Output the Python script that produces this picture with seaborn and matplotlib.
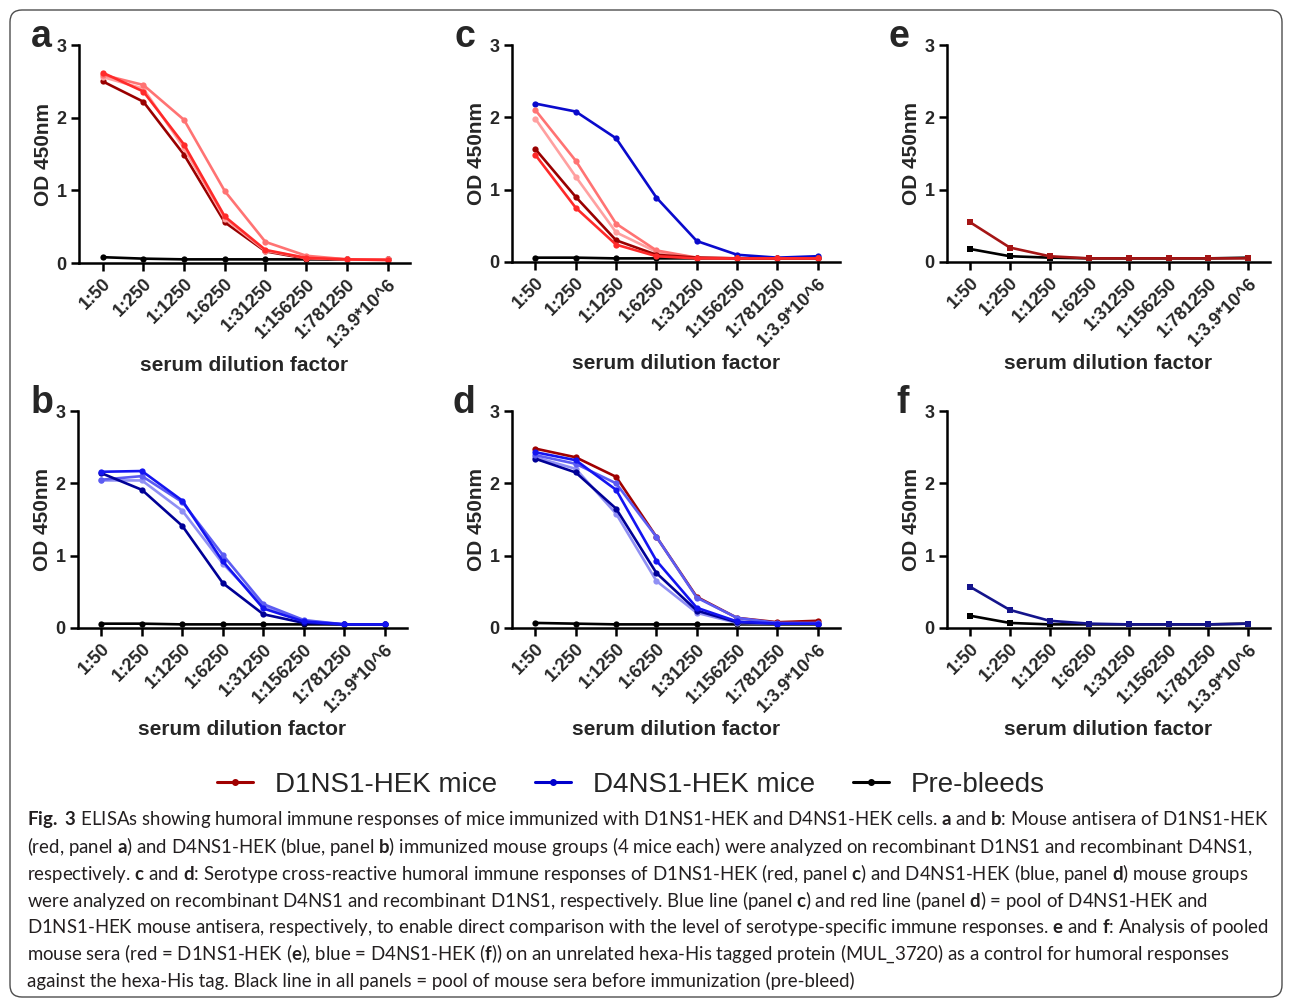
import numpy as np
import pandas as pd
import matplotlib
matplotlib.use("Agg")
import matplotlib.pyplot as plt
import seaborn as sns
from matplotlib.lines import Line2D
from matplotlib.patches import FancyBboxPatch

# x categories (serum dilution)
dilutions = ["1:50", "1:250", "1:1250", "1:6250", "1:31250", "1:156250", "1:781250", "1:3.9*10^6"]

# panel a: D1NS1-HEK mice on D1NS1
a_m1 = [2.50, 2.22, 1.49, 0.56, 0.16, 0.06, 0.05, 0.05]
a_m2 = [2.62, 2.36, 1.63, 0.64, 0.18, 0.07, 0.05, 0.04]
a_m3 = [2.59, 2.45, 1.97, 0.99, 0.29, 0.10, 0.05, 0.05]
a_m4 = [2.56, 2.40, 1.58, 0.61, 0.17, 0.07, 0.05, 0.05]
a_pre = [0.08, 0.06, 0.05, 0.05, 0.05, 0.05, 0.05, 0.05]

# panel b: D4NS1-HEK mice on D4NS1
b_m1 = [2.14, 1.91, 1.41, 0.62, 0.19, 0.07, 0.05, 0.05]
b_m2 = [2.16, 2.17, 1.76, 0.92, 0.27, 0.09, 0.05, 0.05]
b_m3 = [2.05, 2.10, 1.74, 1.01, 0.33, 0.11, 0.05, 0.05]
b_m4 = [2.04, 2.04, 1.62, 0.89, 0.31, 0.10, 0.05, 0.05]
b_pre = [0.06, 0.06, 0.05, 0.05, 0.05, 0.05, 0.05, 0.05]

# panel c: D1NS1-HEK mice on D4NS1 (+ D4 pool)
c_m1 = [1.56, 0.90, 0.30, 0.10, 0.06, 0.05, 0.05, 0.05]
c_m2 = [1.48, 0.75, 0.24, 0.08, 0.05, 0.05, 0.05, 0.05]
c_m3 = [2.10, 1.40, 0.53, 0.16, 0.06, 0.05, 0.05, 0.05]
c_m4 = [1.98, 1.18, 0.41, 0.14, 0.06, 0.05, 0.05, 0.05]
c_pool = [2.19, 2.08, 1.71, 0.89, 0.29, 0.10, 0.06, 0.08]
c_pre = [0.06, 0.06, 0.05, 0.05, 0.05, 0.05, 0.05, 0.06]

# panel d: D4NS1-HEK mice on D1NS1 (+ D1 pool)
d_m1 = [2.34, 2.15, 1.65, 0.76, 0.24, 0.08, 0.06, 0.06]
d_m2 = [2.43, 2.32, 1.91, 0.93, 0.28, 0.09, 0.06, 0.06]
d_m3 = [2.39, 2.27, 2.00, 1.26, 0.42, 0.14, 0.07, 0.07]
d_m4 = [2.36, 2.20, 1.58, 0.65, 0.21, 0.07, 0.06, 0.06]
d_pool = [2.48, 2.36, 2.09, 1.26, 0.43, 0.14, 0.08, 0.10]
d_pre = [0.07, 0.06, 0.05, 0.05, 0.05, 0.05, 0.05, 0.05]

# panels e / f: pooled sera on hexa-His control protein
e_pool = [0.55, 0.20, 0.08, 0.05, 0.05, 0.05, 0.05, 0.05]
e_pre = [0.18, 0.08, 0.06, 0.05, 0.05, 0.05, 0.05, 0.06]
f_pool = [0.57, 0.25, 0.10, 0.06, 0.05, 0.05, 0.05, 0.06]
f_pre = [0.17, 0.07, 0.05, 0.05, 0.05, 0.05, 0.05, 0.06]

reds = ["#990000", "#ff2a2a", "#ff7373", "#ffa0a0"]
blues = ["#000096", "#1414f0", "#5c5cf2", "#9090f4"]

sns.set_theme(style="ticks")
plt.rcParams["font.family"] = ["Liberation Sans", "DejaVu Sans"]
plt.rcParams["mathtext.fontset"] = "custom"
plt.rcParams["mathtext.rm"] = "Lato"
plt.rcParams["mathtext.bf"] = "Lato:bold"


def draw_panel(ax, series, marker="o"):
    rows = []
    for name, vals, col in series:
        for i, v in enumerate(vals):
            rows.append({"pos": i, "od": v, "series": name})
    df = pd.DataFrame(rows)
    pal = {name: col for name, vals, col in series}
    sns.lineplot(data=df, x="pos", y="od", hue="series", hue_order=[s[0] for s in series],
                 palette=pal, marker=marker, markersize=4.5, markeredgewidth=0,
                 linewidth=1.9, estimator=None, sort=False, legend=False, ax=ax)
    ax.set_xlim(-0.58, 7.55)
    ax.set_ylim(0, 3)
    ax.set_xticks(range(len(dilutions)))
    ax.set_xticklabels(dilutions, rotation=45, ha="right", rotation_mode="anchor",
                       fontsize=13, fontweight="bold")
    ax.set_yticks([0, 1, 2, 3])
    ax.set_yticklabels(["0", "1", "2", "3"], fontsize=13, fontweight="bold")
    ax.tick_params(axis="both", direction="out", length=6, width=1.8, color="black", pad=3)
    for s in ["left", "bottom"]:
        ax.spines[s].set_linewidth(1.8)
        ax.spines[s].set_color("black")
    sns.despine(ax=ax)
    ax.set_xlabel("serum dilution factor", fontsize=15, fontweight="bold", va="top")
    ax.set_ylabel("OD 450nm", fontsize=15, fontweight="bold")
    ax.xaxis.set_label_coords(0.5, -0.425)
    ax.yaxis.set_label_coords(-0.08, 0.5)


fig = plt.figure(figsize=(12.92, 10), dpi=100)
W, H = 1292, 1000


def add_ax(left, right, top, bottom):
    return fig.add_axes([left / W, 1 - bottom / H, (right - left) / W, (bottom - top) / H])


ax_a = add_ax(79, 410, 45, 263)
ax_c = add_ax(512, 840, 45, 262)
ax_e = add_ax(947, 1270, 45, 262)
ax_b = add_ax(78, 407, 411, 628)
ax_d = add_ax(512, 840, 411, 628)
ax_f = add_ax(947, 1270, 411, 628)

draw_panel(ax_a, [("pre", a_pre, "black"), ("m1", a_m1, reds[0]), ("m4", a_m4, reds[3]),
                  ("m3", a_m3, reds[2]), ("m2", a_m2, reds[1])])
draw_panel(ax_b, [("pre", b_pre, "black"), ("m4", b_m4, blues[3]), ("m3", b_m3, blues[2]),
                  ("m1", b_m1, blues[0]), ("m2", b_m2, blues[1])])
draw_panel(ax_c, [("pre", c_pre, "black"), ("pool", c_pool, "#0a0acc"), ("m4", c_m4, reds[3]),
                  ("m3", c_m3, reds[2]), ("m1", c_m1, reds[0]), ("m2", c_m2, reds[1])])
draw_panel(ax_d, [("pre", d_pre, "black"), ("pool", d_pool, "#a00000"), ("m4", d_m4, blues[3]),
                  ("m1", d_m1, blues[0]), ("m3", d_m3, blues[2]), ("m2", d_m2, blues[1])])
draw_panel(ax_e, [("pre", e_pre, "black"), ("pool", e_pool, "#a51515")], marker="s")
draw_panel(ax_f, [("pre", f_pre, "black"), ("pool", f_pool, "#14148c")], marker="s")

# panel letters
for lab, x, y in [("a", 31, 47), ("c", 455, 47), ("e", 889, 47),
                  ("b", 31, 413), ("d", 452, 413), ("f", 896, 413)]:
    fig.text(x / W, 1 - y / H, lab, fontsize=27, fontweight="bold", ha="left", va="baseline")

# legend
handles = [
    Line2D([], [], color="#a00000", lw=2.2, marker="o", ms=4),
    Line2D([], [], color="#0000cc", lw=2.2, marker="o", ms=4),
    Line2D([], [], color="black", lw=2.2, marker="o", ms=4),
]
fig.legend(handles, ["D1NS1-HEK mice", "D4NS1-HEK mice", "Pre-bleeds"], ncol=3,
           loc="center", bbox_to_anchor=(631 / W, 1 - 785 / H), frameon=False,
           fontsize=20, handlelength=1.3, handletextpad=0.8, columnspacing=1.35)

# caption
caption = [
    r"$\mathbf{Fig.}$ $\mathbf{3}$ ELISAs showing humoral immune responses of mice immunized with D1NS1-HEK and D4NS1-HEK cells. $\mathbf{a}$ and $\mathbf{b}$: Mouse antisera of D1NS1-HEK",
    r"(red, panel $\mathbf{a}$) and D4NS1-HEK (blue, panel $\mathbf{b}$) immunized mouse groups (4 mice each) were analyzed on recombinant D1NS1 and recombinant D4NS1,",
    r"respectively. $\mathbf{c}$ and $\mathbf{d}$: Serotype cross-reactive humoral immune responses of D1NS1-HEK (red, panel $\mathbf{c}$) and D4NS1-HEK (blue, panel $\mathbf{d}$) mouse groups",
    r"were analyzed on recombinant D4NS1 and recombinant D1NS1, respectively. Blue line (panel $\mathbf{c}$) and red line (panel $\mathbf{d}$) = pool of D4NS1-HEK and",
    r"D1NS1-HEK mouse antisera, respectively, to enable direct comparison with the level of serotype-specific immune responses. $\mathbf{e}$ and $\mathbf{f}$: Analysis of pooled",
    r"mouse sera (red = D1NS1-HEK ($\mathbf{e}$), blue = D4NS1-HEK ($\mathbf{f}$)) on an unrelated hexa-His tagged protein (MUL_3720) as a control for humoral responses",
    r"against the hexa-His tag. Black line in all panels = pool of mouse sera before immunization (pre-bleed)",
]
for i, line in enumerate(caption):
    fig.text(27 / W, 1 - (820 + i * 26.8) / H, line, family="Lato", fontsize=13.45,
             color="#231f20", ha="left", va="center")

# rounded frame around the figure
frame = FancyBboxPatch((10 / 100, 3 / 100), 12.72, 9.87,
                       boxstyle="round,pad=0,rounding_size=0.12",
                       transform=fig.dpi_scale_trans, fill=False,
                       edgecolor="#4d4d4d", linewidth=1.0)
fig.patches.append(frame)

fig.savefig("out.png", dpi=100)
